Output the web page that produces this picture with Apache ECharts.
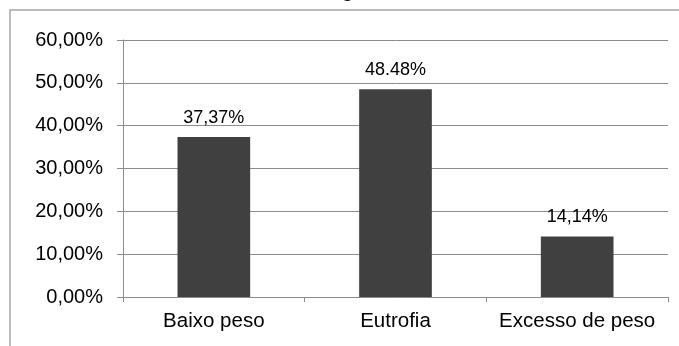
<!DOCTYPE html>
<html>
<head>
<meta charset="utf-8">
<script src="https://cdn.jsdelivr.net/npm/echarts@6/dist/echarts.min.js"></script>
<style>
  html, body { margin: 0; padding: 0; background: #fff; }
  #chart { width: 679px; height: 346px; }
</style>
</head>
<body>
<div id="chart"></div>
<script>
// dados do grafico
var categories = ['Baixo peso', 'Eutrofia', 'Excesso de peso']
var values = [37.37, 48.48, 14.14]
var valueLabels = ['37,37%', '48.48%', '14,14%']

var axisColor = '#8c8c8c'
var labelColor = '#000'
var fontFamily = '"Liberation Sans", Arial, sans-serif'

var chart = echarts.init(document.getElementById('chart'))
var option = {
  animation: false,
  backgroundColor: '#fff',
  graphic: [
    {
      // moldura do grafico
      type: 'rect',
      shape: { x: 10, y: 10, width: 700, height: 400 },
      style: { fill: 'none', stroke: '#a6a6a6', lineWidth: 1.5 },
      z: -1
    },
    {
      // titulo cortado no topo
      type: 'text',
      x: 348,
      y: 1,
      style: {
        text: 'g',
        fontFamily: fontFamily,
        fontSize: 24,
        fill: '#000',
        align: 'center',
        verticalAlign: 'bottom'
      }
    }
  ],
  grid: {
    left: 123,
    right: 11,
    top: 40,
    bottom: 49
  },
  xAxis: {
    type: 'category',
    data: categories,
    axisLine: { show: true, lineStyle: { color: axisColor, width: 1 } },
    axisTick: { show: true, length: 5, lineStyle: { color: axisColor } },
    axisLabel: {
      interval: 0,
      hideOverlap: false,
      color: labelColor,
      fontFamily: fontFamily,
      fontSize: 20.5,
      margin: 14
    }
  },
  yAxis: {
    type: 'value',
    min: 0,
    max: 60,
    interval: 10,
    axisLine: { show: true, lineStyle: { color: axisColor, width: 1 } },
    axisTick: { show: true, length: 6, lineStyle: { color: axisColor } },
    axisLabel: {
      color: labelColor,
      fontFamily: fontFamily,
      fontSize: 20,
      margin: 20,
      formatter: function (v) {
        return v.toFixed(2).replace('.', ',') + '%'
      }
    },
    splitLine: { show: true, lineStyle: { color: axisColor, width: 1 } }
  },
  series: [
    {
      type: 'bar',
      barWidth: '40%',
      itemStyle: { color: '#404040' },
      label: {
        show: true,
        position: 'top',
        distance: 10,
        color: labelColor,
        fontFamily: fontFamily,
        fontSize: 18,
        formatter: function (p) {
          return valueLabels[p.dataIndex]
        }
      },
      data: values
    }
  ]
}
chart.setOption(option)
</script>
</body>
</html>
